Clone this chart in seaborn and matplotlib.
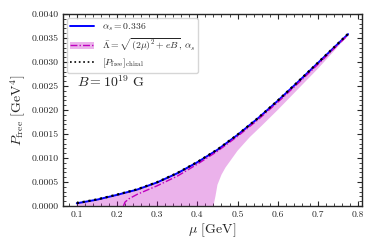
import numpy as np
import matplotlib
matplotlib.use('Agg')
import matplotlib.pyplot as plt
import seaborn as sns
from matplotlib.patches import Patch
from matplotlib.lines import Line2D
from matplotlib.ticker import AutoMinorLocator, MultipleLocator, FormatStrFormatter

# 数据
mu = [0.10, 0.15, 0.20, 0.25, 0.30, 0.35, 0.40, 0.45, 0.50, 0.55, 0.60, 0.65, 0.70, 0.75, 0.775]
p_alpha = [0.000055, 0.00013, 0.00023, 0.00034, 0.00049, 0.00068, 0.00091, 0.00117,
           0.00148, 0.00182, 0.00219, 0.00258, 0.00298, 0.00338, 0.00358]
p_chiral = [0.000058, 0.000135, 0.000235, 0.000345, 0.000495, 0.000685, 0.000915, 0.001175,
            0.001485, 0.001825, 0.002195, 0.002585, 0.002985, 0.003385, 0.003585]

mu_lam = [0.216, 0.22, 0.23, 0.25, 0.30, 0.35, 0.40, 0.45, 0.50, 0.55, 0.60, 0.65, 0.70, 0.75, 0.775]
p_lam = [0.0, 0.00008, 0.00015, 0.00024, 0.00042, 0.00062, 0.00087, 0.00114,
         0.00145, 0.00179, 0.00216, 0.00255, 0.00295, 0.00336, 0.00356]

# 阴影区域下边界
mu_lo = [0.10, 0.44, 0.445, 0.45, 0.46, 0.47, 0.50, 0.53, 0.56, 0.60, 0.65, 0.70, 0.75, 0.775]
p_lo = [0.0, 0.0, 0.0002, 0.00044, 0.00065, 0.0008, 0.00115, 0.00143, 0.00167, 0.002,
        0.00243, 0.00286, 0.00332, 0.00355]

sns.set_style('ticks')
plt.rcParams['font.family'] = 'serif'
plt.rcParams['font.serif'] = ['cmr10']
plt.rcParams['mathtext.fontset'] = 'cm'
plt.rcParams['axes.formatter.use_mathtext'] = True
plt.rcParams['axes.unicode_minus'] = False

fig = plt.figure(figsize=(3.74, 2.49), dpi=100)
ax = fig.add_axes([0.169, 0.173, 0.798, 0.771])

band_x = np.concatenate([mu, mu_lo[::-1]])
band_y = np.concatenate([p_alpha, p_lo[::-1]])
ax.fill(band_x, band_y, color='m', alpha=0.3, lw=0)

sns.lineplot(x=mu, y=p_alpha, color='blue', lw=1.4, ax=ax)
sns.lineplot(x=mu_lam, y=p_lam, color='m', lw=1.0, ls=(0, (5, 1.5, 1, 1.5)), ax=ax)
sns.lineplot(x=mu, y=p_chiral, color='black', lw=1.6, ls=':', ax=ax)

ax.set_ylim(0, 0.004)
ax.yaxis.set_major_locator(MultipleLocator(0.0005))
ax.xaxis.set_major_locator(MultipleLocator(0.1))
ax.xaxis.set_minor_locator(AutoMinorLocator())
ax.yaxis.set_minor_locator(AutoMinorLocator())
ax.yaxis.set_major_formatter(FormatStrFormatter('%.4f'))
ax.xaxis.set_major_formatter(FormatStrFormatter('%.1f'))
ax.tick_params(which='both', direction='in', top=True, right=True, labelsize=7)
ax.tick_params(which='major', length=3.5, width=0.8)
ax.tick_params(which='minor', length=2, width=0.6)
for s in ax.spines.values():
    s.set_linewidth(1.0)

ax.set_xlabel(r'$\mu$ [GeV]', fontsize=10, labelpad=2)
ax.set_ylabel(r'$P_{\rm free}$ [GeV$^4$]', fontsize=10, labelpad=2)

handles = [Line2D([], [], color='blue', lw=1.4),
           (Patch(color='m', alpha=0.3, lw=0), Line2D([], [], color='m', lw=1.0, ls=(0, (5, 1.5, 1, 1.5)))),
           Line2D([], [], color='black', lw=1.2, ls=':')]
labels = [r'$\alpha_s = 0.336$',
          r'$\bar{\Lambda} = \sqrt{(2\mu)^2 + eB},\, \alpha_s$',
          r'$[P_{\rm free}]_{\rm chiral}$']
ax.legend(handles, labels, loc='upper left', fontsize=7, frameon=True, fancybox=True,
          framealpha=0.8, edgecolor='0.8', handlelength=2.4, borderpad=0.35, labelspacing=0.35,
          borderaxespad=0.4)
ax.text(0.1, 0.00248, r'$B = 10^{19}$ G', fontsize=10, va='baseline', zorder=5)

fig.savefig('out.png', dpi=100)
